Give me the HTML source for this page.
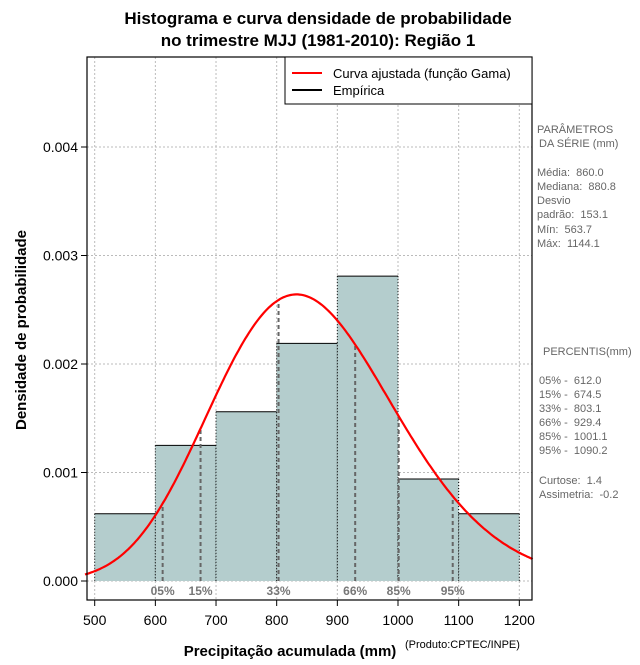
<!DOCTYPE html>
<html><head><meta charset="utf-8"><style>
body{margin:0;background:#fff}
svg text{font-family:"Liberation Sans",sans-serif}
.pre text{white-space:pre}
</style></head><body>
<svg id="c" width="640" height="660" xmlns="http://www.w3.org/2000/svg">
<text x="318" y="24" text-anchor="middle" font-size="17" font-weight="bold">Histograma e curva densidade de probabilidade</text>
<text x="318" y="46" text-anchor="middle" font-size="17" font-weight="bold">no trimestre MJJ (1981-2010): Região 1</text>
<g id="grid"></g>
<g id="bars"></g>
<g id="pct"></g>
<path id="curve" fill="none" stroke="#f00" stroke-width="2.2"/>
<rect x="87" y="57" width="445" height="543" fill="none" stroke="#000" stroke-width="1.2"/>
<g id="axes"></g>
<g>
<rect x="285" y="57" width="247" height="47" fill="#fff" stroke="#000"/>
<line x1="292" y1="73" x2="322" y2="73" stroke="#f00" stroke-width="2"/>
<text x="333" y="78" font-size="13">Curva ajustada (função Gama)</text>
<line x1="292" y1="90" x2="322" y2="90" stroke="#000" stroke-width="2"/>
<text x="333" y="95" font-size="13">Empírica</text>
</g>
<text transform="translate(26,330) rotate(-90)" text-anchor="middle" font-size="15" font-weight="bold">Densidade de probabilidade</text>
<text x="290" y="656" text-anchor="middle" font-size="15" font-weight="bold">Precipitação acumulada (mm)</text>
<text x="405" y="648" font-size="11">(Produto:CPTEC/INPE)</text>
<g class="pre" font-size="11" fill="#666">
<text x="537" y="133">PARÂMETROS</text>
<text x="539" y="147">DA SÉRIE (mm)</text>
<text x="537" y="176">Média:  860.0</text>
<text x="537" y="190">Mediana:  880.8</text>
<text x="537" y="204">Desvio</text>
<text x="537" y="218">padrão:  153.1</text>
<text x="537" y="233">Mín:  563.7</text>
<text x="537" y="247">Máx:  1144.1</text>
<text x="543" y="355">PERCENTIS(mm)</text>
<text x="539" y="384">05% -  612.0</text>
<text x="539" y="398">15% -  674.5</text>
<text x="539" y="412">33% -  803.1</text>
<text x="539" y="426">66% -  929.4</text>
<text x="539" y="440">85% -  1001.1</text>
<text x="539" y="454">95% -  1090.2</text>
<text x="539" y="484">Curtose:  1.4</text>
<text x="539" y="498">Assimetria:  -0.2</text>
</g>
</svg>
<script>
const binStarts=[500,600,700,800,900,1000,1100];
const binWidth=100;
const densities=[0.00062,0.00125,0.00156,0.00219,0.00281,0.00094,0.00062];
const percentLabels=["05%","15%","33%","66%","85%","95%"];
const percentValues=[612.0,674.5,803.1,929.4,1001.1,1090.2];
const gammaParams=[31.55,27.25];
const xTicks=[500,600,700,800,900,1000,1100,1200];
const yTicks=[0,0.001,0.002,0.003,0.004];
const yTickLabels=["0.000","0.001","0.002","0.003","0.004"];
const NS="http://www.w3.org/2000/svg";
const X=v=>94.7+(v-500)*0.6066;
const Y=v=>581-v*108500;
function mk(t,a,p){const e=document.createElementNS(NS,t);for(const k in a)e.setAttribute(k,a[k]);p.appendChild(e);return e;}
function lg(z){const g=[676.5203681218851,-1259.1392167224028,771.32342877765313,-176.61502916214059,12.507343278686905,-0.13857109526572012,9.9843695780195716e-6,1.5056327351493116e-7];z-=1;let x=0.99999999999980993;for(let i=0;i<8;i++)x+=g[i]/(z+i+1);const t=z+7.5;return 0.5*Math.log(2*Math.PI)+(z+0.5)*Math.log(t)-t+Math.log(x);}
function pdf(x){const k=gammaParams[0],th=gammaParams[1];return Math.exp((k-1)*Math.log(x)-x/th-lg(k)-k*Math.log(th));}
const grid=document.getElementById('grid'),bars=document.getElementById('bars'),pct=document.getElementById('pct'),axes=document.getElementById('axes');
xTicks.forEach(v=>{const l=mk('line',{x1:X(v),x2:X(v),y1:57,y2:600,stroke:'#bbb','stroke-dasharray':'2,2'},grid);

const t=mk('line',{x1:X(v),x2:X(v),y1:600,y2:606,stroke:'#000'},axes);

const tx=mk('text',{x:X(v),y:625,'text-anchor':'middle','font-size':14},axes);tx.textContent=v;
});
yTicks.forEach((v,i)=>{const l=mk('line',{x1:87,x2:532,y1:Y(v),y2:Y(v),stroke:'#bbb','stroke-dasharray':'2,2'},grid);

const t=mk('line',{x1:81,x2:87,y1:Y(v),y2:Y(v),stroke:'#000'},axes);

const tx=mk('text',{x:78,y:Y(v)+5,'text-anchor':'end','font-size':14},axes);tx.textContent=yTickLabels[i];
});
binStarts.forEach((s,i)=>{const r=mk('rect',{x:X(s),y:Y(densities[i]),width:X(s+binWidth)-X(s),height:Y(0)-Y(densities[i]),fill:'#b4cdcd'},bars);

mk('line',{x1:X(s),x2:X(s+binWidth),y1:Y(densities[i]),y2:Y(densities[i]),stroke:'#000'},bars);
mk('line',{x1:X(s),x2:X(s),y1:Y(densities[i]),y2:Y(0),stroke:'#000','stroke-dasharray':'1,2'},bars);
mk('line',{x1:X(s+binWidth),x2:X(s+binWidth),y1:Y(densities[i]),y2:Y(0),stroke:'#000','stroke-dasharray':'1,2'},bars);});
percentValues.forEach((v,i)=>{const l=mk('line',{x1:X(v),x2:X(v),y1:Y(0),y2:Y(pdf(v)),stroke:'#666','stroke-width':2,'stroke-dasharray':'4,3'},pct);

const t=mk('text',{x:X(v),y:595,'text-anchor':'middle','font-size':12,'font-weight':'bold',fill:'#777'},pct);t.textContent=percentLabels[i];
});
let d='';for(let x=484;x<=1222;x+=3){d+=(d?'L':'M')+X(x).toFixed(1)+','+Y(pdf(x)).toFixed(1);}
document.getElementById('curve').setAttribute('d',d);
</script>
</body></html>
